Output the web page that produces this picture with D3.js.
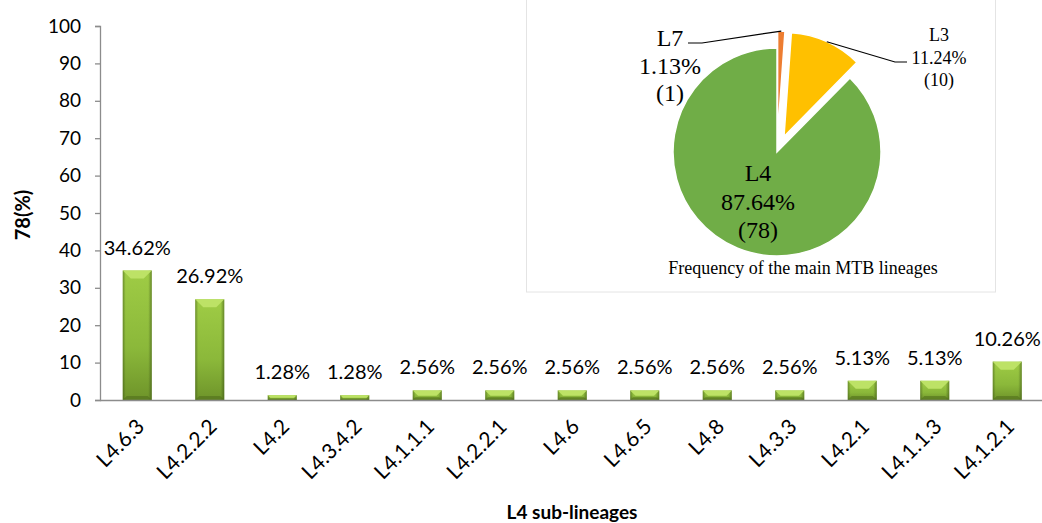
<!DOCTYPE html>
<html>
<head>
<meta charset="utf-8">
<script src="https://cdn.jsdelivr.net/npm/d3@7"></script>
<style>
  html, body { margin: 0; padding: 0; background: #fff; }
  svg { display: block; }
</style>
</head>
<body>
<svg id="chart" width="1042" height="523"></svg>
<script>
// L4 sub-lineage frequencies (%)
const subLineages = ["L4.6.3", "L4.2.2.2", "L4.2", "L4.3.4.2", "L4.1.1.1", "L4.2.2.1", "L4.6", "L4.6.5", "L4.8", "L4.3.3", "L4.2.1", "L4.1.1.3", "L4.1.2.1"];
const subLineagePct = [34.62, 26.92, 1.28, 1.28, 2.56, 2.56, 2.56, 2.56, 2.56, 2.56, 5.13, 5.13, 10.26];
const yTicks = [0, 10, 20, 30, 40, 50, 60, 70, 80, 90, 100];

// Main lineages (inset pie)
const lineages = ["L7", "L3", "L4"];
const lineagePct = [1.13, 11.24, 87.64];
const lineageCount = [1, 10, 78];
const lineageColors = ["#ed7d31", "#ffc000", "#70ad47"];

const svg = d3.select("#chart");
const sansFont = "Lato, 'Open Sans', sans-serif";
const serifFont = "'Liberation Serif', 'DejaVu Serif', serif";

// ---- Bar chart ----
const y = d3.scaleLinear().domain([0, 100]).range([400, 26]);
const x = d3.scaleBand().domain(subLineages).range([101, 1043.5]).padding(0);
const barW = x.bandwidth() * 0.4;

const defs = svg.append("defs");
const g1 = defs.append("linearGradient").attr("id", "barBody").attr("x1", 0).attr("y1", 0).attr("x2", 0).attr("y2", 1);
g1.append("stop").attr("offset", "0%").attr("stop-color", "#9fcc45");
g1.append("stop").attr("offset", "60%").attr("stop-color", "#8bb83a");
g1.append("stop").attr("offset", "100%").attr("stop-color", "#6e942a");
const g2 = defs.append("linearGradient").attr("id", "barSide").attr("x1", 0).attr("y1", 0).attr("x2", 1).attr("y2", 0);
g2.append("stop").attr("offset", "0%").attr("stop-color", "#2f4410").attr("stop-opacity", 0.45);
g2.append("stop").attr("offset", "10%").attr("stop-color", "#2f4410").attr("stop-opacity", 0.0);
g2.append("stop").attr("offset", "88%").attr("stop-color", "#2f4410").attr("stop-opacity", 0.0);
g2.append("stop").attr("offset", "100%").attr("stop-color", "#2f4410").attr("stop-opacity", 0.5);

// y axis
const yAxis = d3.axisLeft(y).tickValues(yTicks).tickSize(5).tickPadding(14);
const yG = svg.append("g").attr("transform", "translate(100,0)").call(yAxis);
yG.select(".domain").attr("stroke", "#8c8c8c").attr("stroke-width", 1.3);
yG.selectAll(".tick line").attr("stroke", "#8c8c8c").attr("stroke-width", 1.3);
yG.selectAll(".tick text").attr("font-family", sansFont).attr("font-size", 19).attr("fill", "#000");

const bars = svg.append("g").selectAll("g.bar")
  .data(subLineages.map((c, i) => ({ c, v: subLineagePct[i] })))
  .join("g").attr("class", "bar");

bars.each(function(d) {
  const gb = d3.select(this);
  const cx = x(d.c) + x.bandwidth() / 2;
  const x0 = cx - barW / 2, top = y(d.v), h = y(0) - top;
  const b = Math.min(8, h * 0.55);
  const bb = Math.min(4, h * 0.3);
  gb.append("rect").attr("x", x0).attr("y", top).attr("width", barW).attr("height", h).attr("fill", "url(#barBody)");
  gb.append("rect").attr("x", x0).attr("y", top).attr("width", barW).attr("height", h).attr("fill", "url(#barSide)");
  // top bevel
  gb.append("path")
    .attr("d", `M${x0},${top}L${x0 + barW},${top}L${x0 + barW - b},${top + b}L${x0 + b},${top + b}Z`)
    .attr("fill", "#bde266");
  // bottom bevel
  gb.append("path")
    .attr("d", `M${x0},${top + h}L${x0 + barW},${top + h}L${x0 + barW - bb},${top + h - bb}L${x0 + bb},${top + h - bb}Z`)
    .attr("fill", "#4f6b1b").attr("opacity", 0.55);
  gb.append("text")
    .attr("x", cx).attr("y", top - 16)
    .attr("text-anchor", "middle")
    .attr("font-family", sansFont).attr("font-size", 20).attr("fill", "#000")
    .text(d.v.toFixed(2) + "%");
});

// x axis
const xAxis = d3.axisBottom(x).tickSize(0).tickPadding(0);
const xG = svg.append("g").attr("transform", "translate(0,400.5)").call(xAxis);
xG.select(".domain").attr("stroke", "#8c8c8c").attr("stroke-width", 1.3).attr("d", "M100,0H1042");
xG.selectAll(".tick text")
  .attr("font-family", sansFont).attr("font-size", 21).attr("fill", "#000")
  .attr("text-anchor", "end")
  .attr("transform", "translate(-2,17) rotate(-45)")
  .attr("dy", "0.7em").attr("y", 0);

// axis titles
svg.append("text").attr("x", 572).attr("y", 519).attr("text-anchor", "middle")
  .attr("font-family", sansFont).attr("font-weight", "bold").attr("font-size", 19)
  .text("L4 sub-lineages");
svg.append("text").attr("transform", "translate(30,215) rotate(-90)").attr("text-anchor", "middle")
  .attr("font-family", sansFont).attr("font-weight", "bold").attr("font-size", 20)
  .text("78(%)");

// ---- Inset pie ----
const inset = svg.append("g");
inset.append("rect").attr("x", 526.5).attr("y", -1).attr("width", 469).attr("height", 293)
  .attr("fill", "#fff").attr("stroke", "#e4e4e4").attr("stroke-width", 1);

const pcx = 777, pcy = 152, r = 104, explode = 17;
const pie = d3.pie().sort(null).value(d => d.v);
const arcs = pie(lineages.map((n, i) => ({ n, v: lineagePct[i], cnt: lineageCount[i], col: lineageColors[i] })));
const arc = d3.arc().innerRadius(0).outerRadius(r);
const shift = d => {
  const a = (d.startAngle + d.endAngle) / 2;
  const e = d.data.n === "L4" ? 0 : explode;
  return [e * Math.sin(a), -e * Math.cos(a)];
};

const pg = inset.append("g").attr("transform", `translate(${pcx},${pcy})`);
pg.selectAll("path").data(arcs).join("path")
  .attr("d", arc)
  .attr("transform", d => `translate(${shift(d)})`)
  .attr("fill", d => d.data.col)
  .attr("stroke", "#fff").attr("stroke-width", 1.5);

// leader point on the outer edge of a slice at its mid-angle
const edgePoint = d => {
  const a = (d.startAngle + d.endAngle) / 2;
  const s = shift(d);
  return [pcx + s[0] + r * Math.sin(a), pcy + s[1] - r * Math.cos(a)];
};

const line = d3.line();
const l7 = arcs[0], l3 = arcs[1], l4 = arcs[2];
inset.append("path").attr("d", line([[688, 43], [702, 43], edgePoint(l7)]))
  .attr("fill", "none").attr("stroke", "#000").attr("stroke-width", 1.2);
inset.append("path").attr("d", line([edgePoint(l3), [895, 62], [907, 62]]))
  .attr("fill", "none").attr("stroke", "#000").attr("stroke-width", 1.2);

function multiLabel(cx, cy0, step, size, lines) {
  const t = inset.append("text").attr("font-family", serifFont).attr("font-size", size)
    .attr("text-anchor", "middle").attr("fill", "#000");
  lines.forEach((s, i) => {
    t.append("tspan").attr("x", cx).attr("y", cy0 + i * step).attr("dy", "0.35em").text(s);
  });
}
const lbl = d => [d.data.n, d.data.v.toFixed(2) + "%", "(" + d.data.cnt + ")"];
multiLabel(670, 38, 27.5, 24, lbl(l7));
multiLabel(939, 35, 22.5, 18, lbl(l3));
multiLabel(758, 173, 28.5, 24, lbl(l4));

inset.append("text").attr("x", 803).attr("y", 268).attr("dy", "0.35em").attr("text-anchor", "middle")
  .attr("font-family", serifFont).attr("font-size", 18).text("Frequency of the main MTB lineages");
</script>
</body>
</html>
